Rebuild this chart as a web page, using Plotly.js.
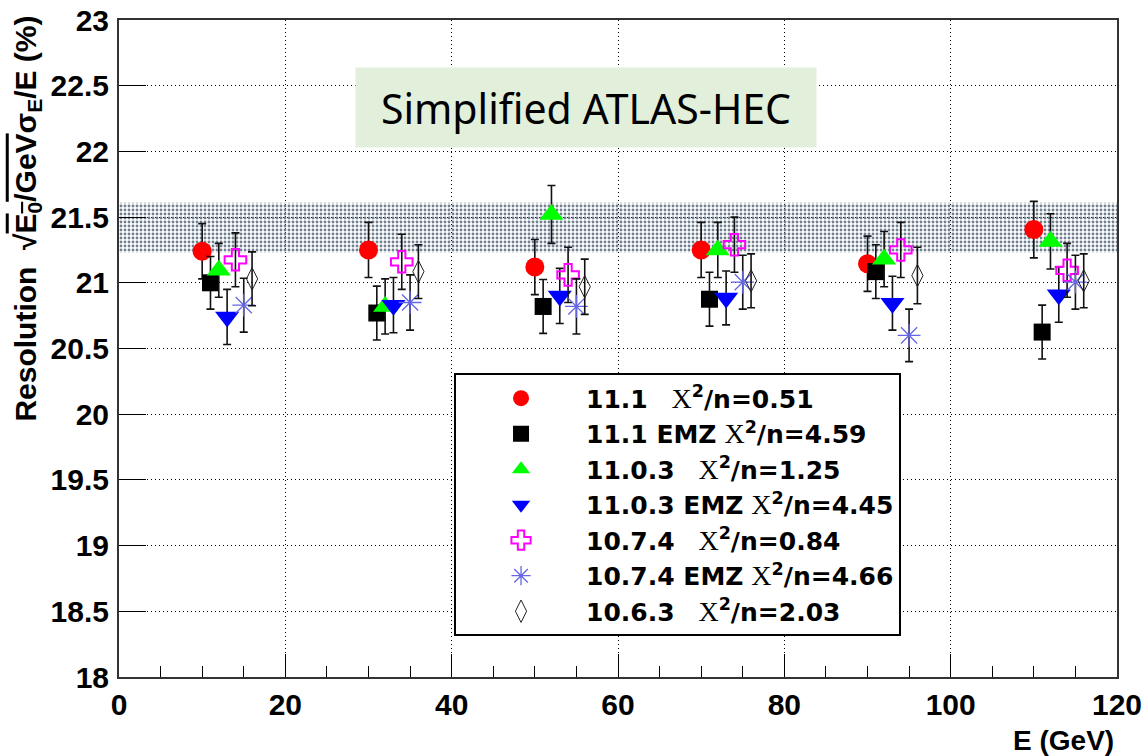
<!DOCTYPE html>
<html>
<head>
<meta charset="utf-8">
<script src="https://cdn.plot.ly/plotly-3.0.1.min.js"></script>
<style>html,body{margin:0;padding:0;background:#fff;}#chart{width:1145px;height:756px;}</style>
</head>
<body>
<div id="chart"></div>
<script>
// ---- data ----
const seriesNames = ["11.1", "11.1 EMZ", "11.0.3", "11.0.3 EMZ", "10.7.4", "10.7.4 EMZ", "10.6.3"];
const chi2n = ["0.51", "4.59", "1.25", "4.45", "0.84", "4.66", "2.03"];

const x_111    = [10, 30, 50, 70, 90, 110];
const y_111    = [21.24, 21.25, 21.12, 21.25, 21.145, 21.405];
const e_111    = [0.21, 0.21, 0.21, 0.21, 0.21, 0.215];

const x_111emz = [11, 31, 51, 71, 91, 111];
const y_111emz = [21.00, 20.77, 20.82, 20.875, 21.085, 20.625];
const e_111emz = [0.20, 0.205, 0.205, 0.205, 0.205, 0.205];

const x_1103    = [12, 32, 52, 72, 92, 112];
const y_1103    = [21.095, 20.82, 21.52, 21.25, 21.18, 21.315];
const e_1103    = [0.205, 0.21, 0.22, 0.21, 0.21, 0.21];

const x_1103emz = [13, 33, 53, 73, 93, 113];
const y_1103emz = [20.74, 20.83, 20.90, 20.885, 20.845, 20.91];
const e_1103emz = [0.21, 0.21, 0.21, 0.205, 0.205, 0.21];

const x_1074    = [14, 34, 54, 74, 94, 114];
const y_1074    = [21.175, 21.16, 21.06, 21.29, 21.25, 21.095];
const e_1074    = [0.205, 0.21, 0.21, 0.21, 0.21, 0.205];

const x_1074emz = [15, 35, 55, 75, 95, 115];
const y_1074emz = [20.83, 20.85, 20.82, 21.005, 20.60, 21.005];
const e_1074emz = [0.205, 0.21, 0.21, 0.205, 0.20, 0.205];

const x_1063    = [16, 36, 56, 76, 96, 116];
const y_1063    = [21.03, 21.085, 20.97, 21.015, 21.055, 21.015];
const e_1063    = [0.205, 0.205, 0.21, 0.205, 0.215, 0.205];

const bandX = [0, 120];
const bandLow = 21.23;
const bandHigh = 21.61;

const xTickVals = [0, 20, 40, 60, 80, 100, 120];
const yTickVals = [18, 18.5, 19, 19.5, 20, 20.5, 21, 21.5, 22, 22.5, 23];
const yTickText = ["18", "18.5", "19", "19.5", "20", "20.5", "21", "21.5", "22", "22.5", "23"];

const titleText = "Simplified ATLAS-HEC";
const xTitle = "E (GeV)";

// ---- build ----
const NB = "\u00A0";
const gaps = [NB+NB+NB, NB, NB+NB+NB, NB, NB+NB+NB, NB, NB+NB+NB];
function legName(i){
  return "<b>" + seriesNames[i] + "</b>" + gaps[i] +
    "<span style='font-family:Liberation Serif;font-weight:normal;font-size:28px'>X</span><b><sup>2</sup>/n=" + chi2n[i] + "</b>";
}

function errTrace(i, xs, ys, es, marker){
  return {
    type: "scatter", mode: "markers", x: xs, y: ys, name: legName(i),
    marker: marker,
    error_y: {type: "data", array: es, visible: true, color: "#111", thickness: 1.6, width: 4},
    hoverinfo: "x+y"
  };
}

const band = {
  type: "scatter", mode: "lines",
  x: [bandX[0], bandX[1], bandX[1], bandX[0], bandX[0]],
  y: [bandLow, bandLow, bandHigh, bandHigh, bandLow],
  fill: "toself", line: {width: 0, color: "rgba(0,0,0,0)"},
  fillcolor: "rgba(0,0,0,0)",
  fillpattern: {shape: ".", fgcolor: "#6f8090", bgcolor: "rgba(255,255,255,0)", size: 4, solidity: 0.4},
  showlegend: false, hoverinfo: "skip"
};

const traces = [
  band,
  errTrace(0, x_111, y_111, e_111, {symbol: "circle", size: 19, color: "#ff0000", line: {width: 0}}),
  errTrace(1, x_111emz, y_111emz, e_111emz, {symbol: "square", size: 17, color: "#000000", line: {width: 0}}),
  errTrace(2, x_1103, y_1103, e_1103, {symbol: "triangle-up", size: 21, color: "#00ff00", line: {width: 0}}),
  errTrace(3, x_1103emz, y_1103emz, e_1103emz, {symbol: "triangle-down", size: 21, color: "#0000ff", line: {width: 0}}),
  errTrace(4, x_1074, y_1074, e_1074, {symbol: "cross-open", size: 18, color: "#ff00ff", line: {width: 2, color: "#ff00ff"}}),
  errTrace(5, x_1074emz, y_1074emz, e_1074emz, {symbol: "asterisk-open", size: 19, color: "#6565e6", line: {width: 1.3, color: "#6565e6"}}),
  errTrace(6, x_1063, y_1063, e_1063, {symbol: "diamond-tall-open", size: 16, color: "#222", line: {width: 1, color: "#222"}})
];

const tickFont = {family: "Liberation Sans, Arial, sans-serif", size: 30, color: "#000", weight: "bold"};

const layout = {
  width: 1145, height: 756,
  margin: {l: 119, r: 28, t: 20, b: 79},
  paper_bgcolor: "#fff", plot_bgcolor: "#fff",
  showlegend: true,
  xaxis: {
    range: [0, 120], tickmode: "array", tickvals: xTickVals,
    ticks: "inside", ticklen: 23, tickwidth: 1, tickcolor: "#000",
    minor: {dtick: 5, tick0: 0, ticks: "inside", ticklen: 11, tickwidth: 1, tickcolor: "#000", showgrid: false},
    showgrid: true, gridcolor: "#000", griddash: "1px,3px", gridwidth: 1,
    showline: true, linecolor: "#333", linewidth: 2, mirror: true,
    zeroline: false, tickfont: tickFont, ticklabelstandoff: 0
  },
  yaxis: {
    range: [18, 23], tickmode: "array", tickvals: yTickVals, ticktext: yTickText,
    ticks: "inside", ticklen: 27, tickwidth: 1, tickcolor: "#000",
    showgrid: true, gridcolor: "#000", griddash: "1px,3px", gridwidth: 1,
    showline: true, linecolor: "#333", linewidth: 2, mirror: true,
    zeroline: false, tickfont: tickFont, ticklabelstandoff: 2
  },
  legend: {
    x: 0.3357, y: 0.462, xanchor: "left", yanchor: "top",
    bgcolor: "#fff", bordercolor: "#000", borderwidth: 2,
    font: {family: "DejaVu Sans, Liberation Sans, sans-serif", size: 25, color: "#000"},
    itemwidth: 120, tracegroupgap: 0
  },
  annotations: [
    {
      xref: "paper", yref: "paper", x: 0.4675, y: 0.8665, xanchor: "center", yanchor: "middle",
      text: titleText, showarrow: false, width: 458, height: 77, bgcolor: "#e2efda",
      font: {family: "Noto Sans, Open Sans, sans-serif", size: 41, color: "#000"}
    },
    {
      xref: "paper", yref: "paper", x: 0.999, y: -0.096, xanchor: "right", yanchor: "middle",
      text: "<b>" + xTitle + "</b>", showarrow: false,
      font: {family: "Liberation Sans, Arial, sans-serif", size: 28, color: "#000"}
    },
    {
      xref: "paper", yref: "paper", x: -0.092, y: 1.01, xanchor: "center", yanchor: "top",
      textangle: -90, showarrow: false,
      text: "<b>Resolution " + NB + "√<span style='text-decoration:overline'>E<sub>0</sub>/GeV</span>σ<sub>E</sub>/E (%)</b>",
      font: {family: "Liberation Sans, Arial, sans-serif", size: 30, color: "#000"}
    }
  ]
};

Plotly.newPlot("chart", traces, layout, {displayModeBar: false, staticPlot: true});
</script>
</body>
</html>
